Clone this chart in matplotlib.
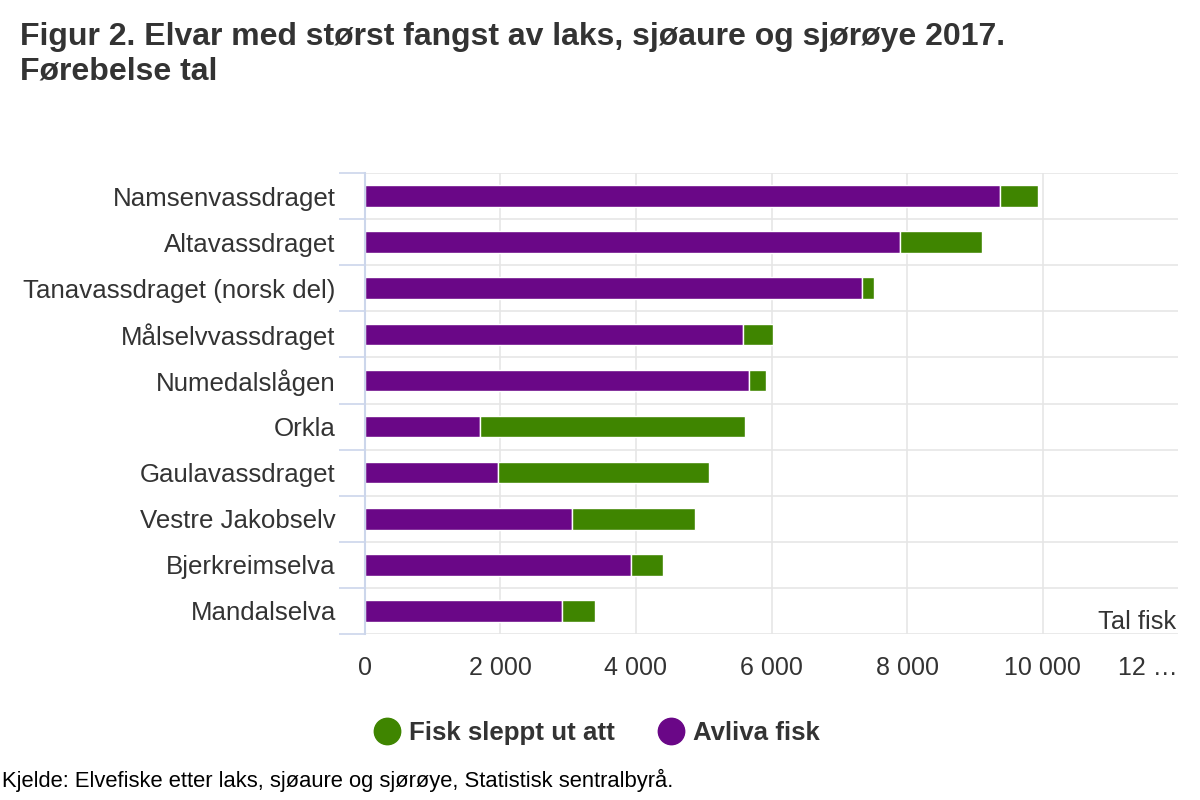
import matplotlib
matplotlib.use("Agg")
import matplotlib.pyplot as plt
from matplotlib.lines import Line2D
import matplotlib.transforms as mtransforms
import numpy as np

plt.rcParams['font.family'] = ['Liberation Sans', 'DejaVu Sans']

categories = ["Namsenvassdraget", "Altavassdraget", "Tanavassdraget (norsk del)",
              "Målselvvassdraget", "Numedalslågen", "Orkla", "Gaulavassdraget",
              "Vestre Jakobselv", "Bjerkreimselva", "Mandalselva"]
avliva = [9376, 7901, 7339, 5578, 5662, 1691, 1956, 3049, 3931, 2902]
sleppt = [563, 1211, 177, 437, 264, 3912, 3118, 1819, 466, 495]
tick_values = [0, 2000, 4000, 6000, 8000, 10000, 12000]
tick_labels = ["0", "2 000", "4 000", "6 000", "8 000", "10 000", "12 …"]

purple = "#6a0787"
green = "#3f8500"
grid_c = "#e6e6e6"
axis_c = "#ccd6eb"
text_c = "#333333"

fig = plt.figure(figsize=(12, 8), dpi=100)
ax = fig.add_axes([365/1200, 1-634/800, (1178-365)/1200, (634-173)/800])

y = np.arange(len(categories))
ax.barh(y, avliva, height=0.47, color=purple, edgecolor="white", linewidth=1, zorder=3)
ax.barh(y, sleppt, left=avliva, height=0.47, color=green, edgecolor="white", linewidth=1, zorder=3)

ax.set_xlim(0, 12000)
ax.set_ylim(len(categories)-0.5, -0.5)

ax.set_yticks(y)
ax.set_yticklabels(categories, fontsize=18.6, color=text_c)
ax.tick_params(axis='y', which='major', length=0, pad=21)
ax.set_yticks(np.arange(-0.5, len(categories), 1), minor=True)
ax.tick_params(axis='y', which='minor', length=19, color=axis_c, width=1.2)
ax.yaxis.grid(True, which='minor', color=grid_c, linewidth=1.2, zorder=0)

ax.set_xticks(tick_values)
ax.set_xticklabels(tick_labels, fontsize=18, color=text_c)
ax.tick_params(axis='x', length=0, pad=16)
for xv in tick_values[1:-1]:
    ax.axvline(xv, color=grid_c, linewidth=1.2, zorder=0)
labels = ax.get_xticklabels()
labels[-1].set_horizontalalignment('right')

for s in ['top', 'right', 'bottom']:
    ax.spines[s].set_visible(False)
ax.spines['left'].set_color(axis_c)
ax.spines['left'].set_linewidth(1.5)
ax.spines['left'].set_zorder(4)
ax.set_axisbelow(True)

trans = mtransforms.blended_transform_factory(ax.transAxes, ax.transData)
ax.text(0.998, 9.25, "Tal fisk", transform=trans, fontsize=18.3,
        color=text_c, ha='right', va='center')

fig.text(20/1200, 1-37/800, "Figur 2. Elvar med størst fangst av laks, sjøaure og sjørøye 2017.",
         fontsize=23, fontweight='bold', color=text_c, va='center', ha='left')
fig.text(20/1200, 1-72/800, "Førebelse tal",
         fontsize=23, fontweight='bold', color=text_c, va='center', ha='left')

handles = [Line2D([0], [0], marker='o', linestyle='none', markersize=19,
                  markerfacecolor=green, markeredgecolor=green),
           Line2D([0], [0], marker='o', linestyle='none', markersize=19,
                  markerfacecolor=purple, markeredgecolor=purple)]
leg = fig.legend(handles, ["Fisk sleppt ut att", "Avliva fisk"], loc='center',
                 bbox_to_anchor=(597/1200, 1-733/800), ncol=2, frameon=False,
                 prop={'size': 18.6, 'weight': 'bold'}, handletextpad=0.35,
                 columnspacing=1.66, handlelength=1.0)
for t in leg.get_texts():
    t.set_color(text_c)

fig.text(2/1200, 1-780/800, "Kjelde: Elvefiske etter laks, sjøaure og sjørøye, Statistisk sentralbyrå.",
         fontsize=15.8, color="#000000", va='center', ha='left')

fig.savefig("out.png", dpi=100, facecolor="white")
